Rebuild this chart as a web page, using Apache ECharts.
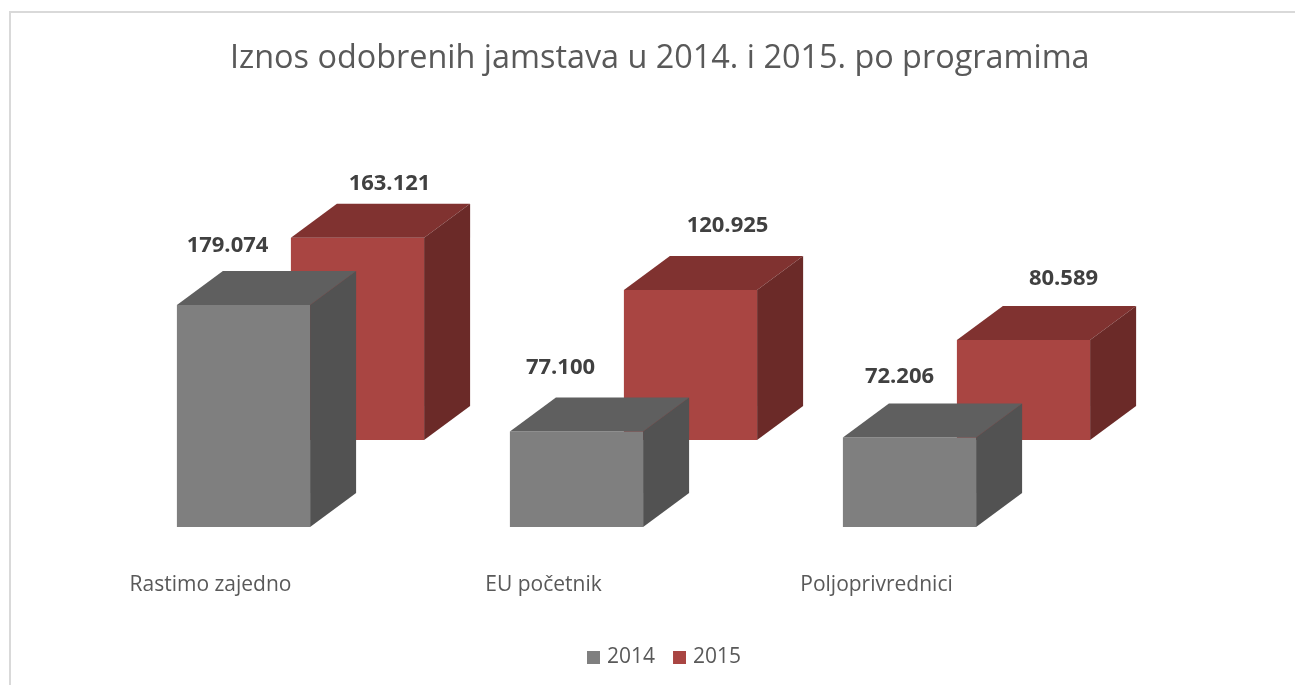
<!DOCTYPE html>
<html><head><meta charset="utf-8">
<style>html,body{margin:0;padding:0;background:#fff;overflow:hidden}#c{width:1295px;height:685px}</style>
<script src="https://cdn.jsdelivr.net/npm/echarts@6/dist/echarts.min.js"></script>
</head><body><div id="c"></div>
<script>
const titleText = 'Iznos odobrenih jamstava u 2014. i 2015. po programima';
const categories = ['Rastimo zajedno', 'EU početnik', 'Poljoprivrednici'];
const values2014 = [179074, 77100, 72206];
const values2015 = [163121, 120925, 80589];
const labels2014 = ['179.074', '77.100', '72.206'];
const labels2015 = ['163.121', '120.925', '80.589'];

const depth = [46, -34];
const backShift = [114, -87];
const label2014Offset = [[-16, -59], [-16, -64], [-10, -61]];
const label2015Offset = [[32, -54], [37, -64], [40, -61]];
const font = '"Open Sans","Noto Sans",sans-serif';

function cuboid(faces, shift, labels, offsets) {
  return function (params, api) {
    const i = api.value(0);
    const top = api.coord([i, api.value(1)]);
    const base = api.coord([i, 0]);
    const w = api.size([1, 0])[0] * 0.4;
    const x0 = top[0] - w / 2 + shift[0], x1 = x0 + w;
    const yT = top[1] + shift[1], yB = base[1] + shift[1];
    const dx = depth[0], dy = depth[1];
    const poly = (pts, fill) => ({ type: 'polygon', shape: { points: pts }, style: { fill: fill } });
    return {
      type: 'group',
      children: [
        poly([[x0, yT], [x1, yT], [x1, yB], [x0, yB]], faces[0]),
        poly([[x0, yT], [x0 + dx, yT + dy], [x1 + dx, yT + dy], [x1, yT]], faces[1]),
        poly([[x1, yT], [x1 + dx, yT + dy], [x1 + dx, yB + dy], [x1, yB]], faces[2]),
        { type: 'text', z2: 10,
          style: { x: (x0 + x1) / 2 + offsets[i][0], y: yT + offsets[i][1], text: labels[i],
            fill: '#404040', font: 'bold 22px ' + font, textAlign: 'center', textVerticalAlign: 'middle' } }
      ]
    };
  };
}

const chart = echarts.init(document.getElementById('c'), null, { renderer: 'canvas' });
chart.setOption({
  animation: false,
  backgroundColor: '#fff',
  title: { text: titleText, left: 225, top: 38,
    textStyle: { fontFamily: font, fontSize: 32.4, fontWeight: 'normal', color: '#595959' } },
  legend: { data: ['2014', '2015'], left: 582, top: 642, itemWidth: 13, itemHeight: 13, itemGap: 18,
    icon: 'rect', textStyle: { fontFamily: font, fontSize: 21, color: '#595959', padding: [0, 0, 0, 2] } },
  grid: { left: 77, width: 999, top: 279, height: 248 },
  xAxis: { type: 'category', data: categories,
    axisLine: { show: false }, axisTick: { show: false },
    axisLabel: { margin: 48, fontFamily: font, fontSize: 21, color: '#595959', padding: [0, 66, 0, 0], interval: 0 } },
  yAxis: { type: 'value', min: 0, max: 200000, show: false, splitLine: { show: false } },
  graphic: [{ type: 'rect', silent: true, shape: { x: 10, y: 12, width: 1400, height: 800 },
    style: { fill: 'none', stroke: '#d9d9d9', lineWidth: 2 } }],
  series: [
    { name: '2015', type: 'custom', z: 2, itemStyle: { color: '#a94542' },
      renderItem: cuboid(['#a94542', '#803230', '#6b2a28'], backShift, labels2015, label2015Offset),
      encode: { x: 0, y: 1 },
      data: values2015.map((v, i) => [i, v]) },
    { name: '2014', type: 'custom', z: 3, itemStyle: { color: '#7f7f7f' },
      renderItem: cuboid(['#7f7f7f', '#5f5f5f', '#525252'], [0, 0], labels2014, label2014Offset),
      encode: { x: 0, y: 1 },
      data: values2014.map((v, i) => [i, v]) }
  ]
});
</script></body></html>
